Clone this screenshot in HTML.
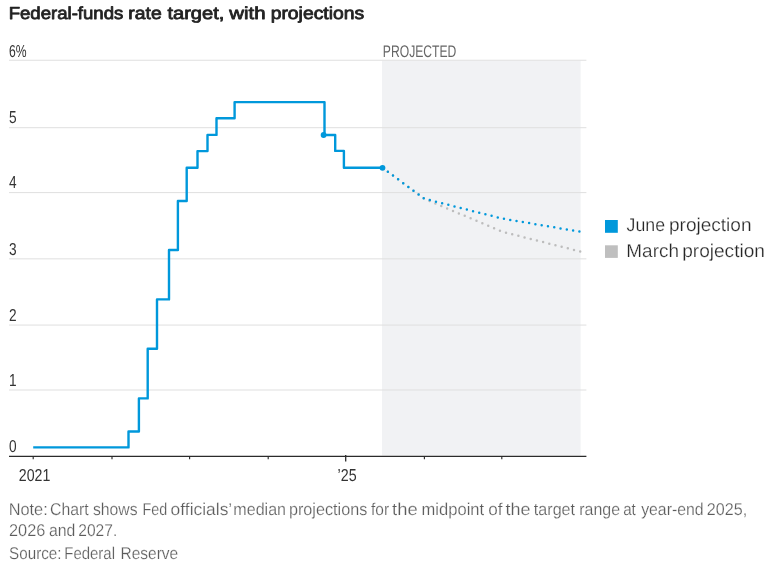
<!DOCTYPE html>
<html lang="en">
<head>
<meta charset="utf-8">
<title>Federal-funds rate target, with projections</title>
<style>
  html, body { margin: 0; padding: 0; background: #fff; }
  body { width: 772px; height: 570px; overflow: hidden; }
  svg { display: block; font-family: "Liberation Sans", sans-serif; text-rendering: geometricPrecision; }
  .title { font-weight: 400; font-size: 17.4px; fill: #222; stroke: #222; stroke-width: 0.8px; stroke-linejoin: round; }
  .ylab, .xlab { font-size: 17.3px; fill: #333; }
  .proj { font-size: 16.9px; fill: #666; }
  .leg { font-size: 18.5px; fill: #262626; stroke: #fff; stroke-width: 0.25px; paint-order: fill stroke; }
  .note { font-size: 17.1px; fill: #5c5c5c; stroke: #fff; stroke-width: 0.22px; paint-order: fill stroke; }
  .grid line { stroke: #dfdfdf; stroke-width: 1; }
  .axis line { stroke: #2b2b2b; stroke-width: 1.15; }
</style>
</head>
<body>
<svg width="772" height="570" viewBox="0 0 772 570">
  <rect x="0" y="0" width="772" height="570" fill="#ffffff"/>

  <text class="title" y="18.6"><tspan x="8.67" textLength="114.70" lengthAdjust="spacingAndGlyphs">Federal-funds</tspan> <tspan x="128.31" textLength="33.35" lengthAdjust="spacingAndGlyphs">rate</tspan> <tspan x="167.40" textLength="57.01" lengthAdjust="spacingAndGlyphs">target,</tspan> <tspan x="229.33" textLength="36.30" lengthAdjust="spacingAndGlyphs">with</tspan> <tspan x="270.65" textLength="93.55" lengthAdjust="spacingAndGlyphs">projections</tspan></text>

  <!-- projected shading -->
  <rect x="382" y="60.5" width="198.6" height="395" fill="#f1f2f4"/>

  <!-- gridlines -->
  <g class="grid">
    <line x1="9" x2="586.4" y1="60.25" y2="60.25"/>
    <line x1="9" x2="586.4" y1="127.7" y2="127.7"/>
    <line x1="9" x2="586.4" y1="192.6" y2="192.6"/>
    <line x1="9" x2="586.4" y1="258.85" y2="258.85"/>
    <line x1="9" x2="586.4" y1="325.05" y2="325.05"/>
    <line x1="9" x2="586.4" y1="390" y2="390"/>
  </g>

  <!-- y labels -->
  <g class="ylab">
    <text x="9" y="56.8" textLength="17.6" lengthAdjust="spacingAndGlyphs">6%</text>
    <text x="9" y="123" textLength="7.6" lengthAdjust="spacingAndGlyphs">5</text>
    <text x="9" y="188" textLength="7.6" lengthAdjust="spacingAndGlyphs">4</text>
    <text x="9" y="254.7" textLength="7.6" lengthAdjust="spacingAndGlyphs">3</text>
    <text x="9" y="321" textLength="7.6" lengthAdjust="spacingAndGlyphs">2</text>
    <text x="9" y="386" textLength="7.6" lengthAdjust="spacingAndGlyphs">1</text>
    <text x="9" y="451.8" textLength="7.6" lengthAdjust="spacingAndGlyphs">0</text>
  </g>

  <text class="proj" x="382.8" y="56.8" textLength="73.6" lengthAdjust="spacingAndGlyphs">PROJECTED</text>

  <!-- axis -->
  <g class="axis">
    <line x1="9" x2="586.4" y1="456.3" y2="456.3"/>
    <line x1="33.2" x2="33.2" y1="456" y2="459.3"/>
    <line x1="112" x2="112" y1="456" y2="459.3"/>
    <line x1="189.6" x2="189.6" y1="456" y2="459.3"/>
    <line x1="268.2" x2="268.2" y1="456" y2="459.3"/>
    <line x1="345.7" x2="345.7" y1="455" y2="461.6" style="stroke-width:1.3"/>
    <line x1="424.4" x2="424.4" y1="456" y2="459.3"/>
    <line x1="501.8" x2="501.8" y1="456" y2="459.3"/>
  </g>
  <g class="xlab">
    <text x="18.8" y="480.9" textLength="31.5" lengthAdjust="spacingAndGlyphs">2021</text>
    <text x="337.6" y="480.9" textLength="19" lengthAdjust="spacingAndGlyphs">’25</text>
  </g>

  <!-- March projection (grey dotted) -->
  <path d="M382.5,167.8 L424.2,198.7 L502.4,231.8 L580.6,251.6" fill="none" stroke="#bdbdbd" stroke-width="2.5" stroke-linecap="round" stroke-dasharray="0 6.375" stroke-dashoffset="-0.3"/>
  <!-- June projection (blue dotted) -->
  <path d="M382.5,167.8 L424.2,198.7 L502.4,218.6 L580.6,231.8" fill="none" stroke="#0098db" stroke-width="2.5" stroke-linecap="round" stroke-dasharray="0 6.375" stroke-dashoffset="-0.3"/>

  <!-- actual rate step line -->
  <path d="M33.2,447.4 H128.5 V431.5 H138.9 V398.4 H147.7 V348.8 H157 V299.4 H169 V250 H177.9 V201 H186.7 V167.7 H197.5 V151.1 H207.5 V134.9 H216.5 V118.2 H234.6 V102.1 H324.5 V135 H335.2 V150.9 H343.9 V167.7 H382.5" fill="none" stroke="#0098db" stroke-width="2.4" stroke-linejoin="round"/>
  <circle cx="323.6" cy="135" r="2.9" fill="#0098db"/>
  <circle cx="382.5" cy="167.8" r="2.9" fill="#0098db"/>

  <!-- legend -->
  <rect x="605" y="220" width="12.8" height="12.8" fill="#0098db"/>
  <rect x="605" y="245.3" width="12.8" height="12.6" fill="#bfbfbf"/>
  <text class="leg" y="231.0"><tspan x="626.62" textLength="38.47" lengthAdjust="spacingAndGlyphs">June</tspan> <tspan x="668.97" textLength="82.56" lengthAdjust="spacingAndGlyphs">projection</tspan></text>
  <text class="leg" y="256.7"><tspan x="626.35" textLength="52.58" lengthAdjust="spacingAndGlyphs">March</tspan> <tspan x="682.17" textLength="82.77" lengthAdjust="spacingAndGlyphs">projection</tspan></text>

  <!-- notes -->
  <text class="note" y="515"><tspan x="8.66" textLength="39.03" lengthAdjust="spacingAndGlyphs">Note:</tspan> <tspan x="50.00" textLength="38.62" lengthAdjust="spacingAndGlyphs">Chart</tspan> <tspan x="92.96" textLength="44.61" lengthAdjust="spacingAndGlyphs">shows</tspan> <tspan x="142.42" textLength="24.70" lengthAdjust="spacingAndGlyphs">Fed</tspan> <tspan x="170.58" textLength="60.99" lengthAdjust="spacingAndGlyphs">officials’</tspan> <tspan x="233.33" textLength="52.71" lengthAdjust="spacingAndGlyphs">median</tspan> <tspan x="288.96" textLength="78.33" lengthAdjust="spacingAndGlyphs">projections</tspan> <tspan x="370.98" textLength="18.08" lengthAdjust="spacingAndGlyphs">for</tspan> <tspan x="392.12" textLength="25.60" lengthAdjust="spacingAndGlyphs">the</tspan> <tspan x="421.60" textLength="62.52" lengthAdjust="spacingAndGlyphs">midpoint</tspan> <tspan x="488.18" textLength="14.29" lengthAdjust="spacingAndGlyphs">of</tspan> <tspan x="505.53" textLength="24.97" lengthAdjust="spacingAndGlyphs">the</tspan> <tspan x="533.86" textLength="41.16" lengthAdjust="spacingAndGlyphs">target</tspan> <tspan x="579.24" textLength="40.77" lengthAdjust="spacingAndGlyphs">range</tspan> <tspan x="623.16" textLength="12.66" lengthAdjust="spacingAndGlyphs">at</tspan> <tspan x="641.16" textLength="62.36" lengthAdjust="spacingAndGlyphs">year-end</tspan> <tspan x="706.79" textLength="40.36" lengthAdjust="spacingAndGlyphs">2025,</tspan></text>
  <text class="note" y="536"><tspan x="8.98" textLength="36.34" lengthAdjust="spacingAndGlyphs">2026</tspan> <tspan x="49.03" textLength="26.39" lengthAdjust="spacingAndGlyphs">and</tspan> <tspan x="78.22" textLength="39.01" lengthAdjust="spacingAndGlyphs">2027.</tspan></text>
  <text class="note" y="559"><tspan x="9.11" textLength="52.38" lengthAdjust="spacingAndGlyphs">Source:</tspan> <tspan x="64.27" textLength="50.73" lengthAdjust="spacingAndGlyphs">Federal</tspan> <tspan x="120.53" textLength="57.66" lengthAdjust="spacingAndGlyphs">Reserve</tspan></text>
</svg>
</body>
</html>
